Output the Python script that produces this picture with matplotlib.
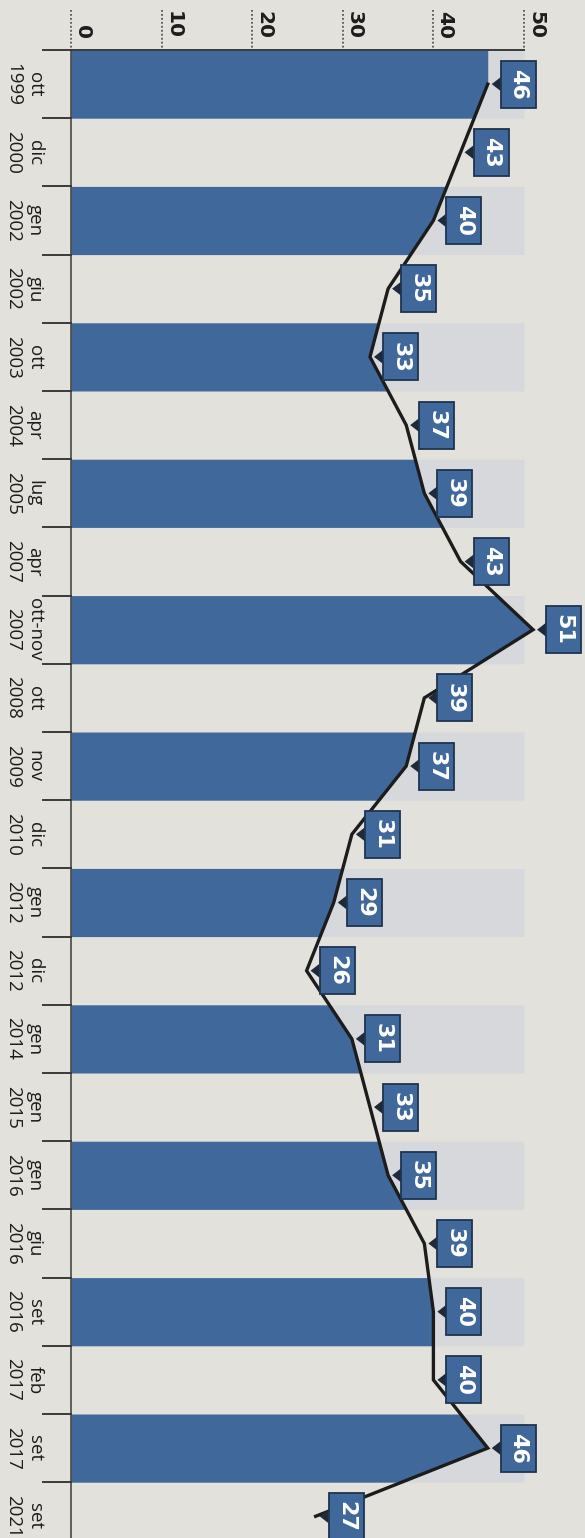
import numpy as np
import matplotlib
matplotlib.use("Agg")
import matplotlib.pyplot as plt
from matplotlib.patches import Polygon

# ---- data ----
months = ["ott", "dic", "gen", "giu", "ott", "apr", "lug", "apr", "ott-nov", "ott", "nov",
          "dic", "gen", "dic", "gen", "gen", "gen", "giu", "set", "feb", "set", "set"]
years = ["1999", "2000", "2002", "2002", "2003", "2004", "2005", "2007", "2007", "2008", "2009",
         "2010", "2012", "2012", "2014", "2015", "2016", "2016", "2016", "2017", "2017", "2021"]
values = [46, 43, 40, 35, 33, 37, 39, 43, 51, 39, 37, 31, 29, 26, 31, 33, 35, 39, 40, 40, 46, 27]
value_ticks = [0, 10, 20, 30, 40, 50]

# ---- style / layout ----
W, H = 585, 1538
X0 = 71.0            # pixel of value 0
PXU = (524 - 71) / 50  # pixels per value unit
TOP = 50.0           # pixel of top boundary
BAND = 68.2          # pixels per category
PAPER = "#e3e1db"
LIGHT = "#d7d8db"
BLUE = "#40689a"
EDGE = "#1f3350"
INK = "#1c1c1c"

def dx(px):
    return px / PXU

def dy(px):
    return px / BAND

fig = plt.figure(figsize=(W / 100, H / 100), dpi=100, facecolor=PAPER)
ax = fig.add_axes([0, 0, 1, 1])
ax.set_facecolor(PAPER)
ax.set_xlim(-X0 / PXU, (W - X0) / PXU)
ax.set_ylim(-0.5 + (H - TOP) / BAND, -0.5 - TOP / BAND)
ax.axis("off")

n = len(values)
idx = np.arange(n)
vmax = value_ticks[-1]

# alternating bands: area under the line in blue, rest up to max in light grey
for i in range(0, n, 2):
    ys = np.array([i - 0.5, i, i + 0.5])
    xs = np.interp(ys, idx, values)
    ax.fill_betweenx(ys, 0, xs, color=BLUE, lw=0, zorder=1)
    ax.fill_betweenx(ys, xs, vmax, color=LIGHT, lw=0, zorder=0.5)

# axis line and category ticks
ax.plot([0, 0], [-0.5, n + 0.5], color="#3a3a3a", lw=1.1, zorder=3)
for b in np.arange(-0.5, n + 0.5, 1.0):
    ax.plot([-dx(28), 0], [b, b], color="#3a3a3a", lw=1.4, zorder=3)
ax.plot([0, vmax], [-0.5, -0.5], color="#3a3a3a", lw=1.4, zorder=3)

# value ticks (dotted) and labels
for v in value_ticks:
    ax.plot([v, v], [-0.5 - dy(40), -0.5 - dy(2)], color="#555555", lw=1.3,
            ls=(0, (1, 1.2)), zorder=3)
    ax.text(v + dx(6), -0.5 - dy(11), str(v), rotation=-90, rotation_mode="anchor",
            ha="right", va="baseline", fontsize=14.5, fontweight="bold",
            family="DejaVu Sans", color=INK, zorder=4)

# category labels
for i, (m, y) in enumerate(zip(months, years)):
    ax.text(-dx(47), i, f"{m}\n{y}", rotation=-90, rotation_mode="anchor",
            ha="center", va="center", multialignment="center", linespacing=1.22,
            fontsize=13.5, family="Open Sans", color=INK, zorder=4)

# line
ax.plot(values, idx, color=INK, lw=2.4, solid_joinstyle="miter", zorder=5)

# value callouts
for i, v in enumerate(values):
    x0 = v + dx(4)
    xl = v + dx(13)
    xr = v + dx(48)
    h = dy(23.5)
    t = dy(7)
    tri = Polygon([(x0, i), (xl, i - t), (xl, i + t)], closed=True,
                  facecolor="#1e2a3a", edgecolor="none", zorder=6)
    box = Polygon([(xl, i - h), (xr, i - h), (xr, i + h), (xl, i + h)], closed=True,
                  facecolor=BLUE, edgecolor=EDGE, lw=1.3, zorder=6)
    ax.add_patch(tri)
    ax.add_patch(box)
    ax.text((xl + xr) / 2, i, str(v), rotation=-90, rotation_mode="anchor",
            ha="center", va="center", fontsize=16, fontweight="bold",
            family="DejaVu Sans", color="white", zorder=7)

fig.savefig("out.png", dpi=100, facecolor=PAPER)
